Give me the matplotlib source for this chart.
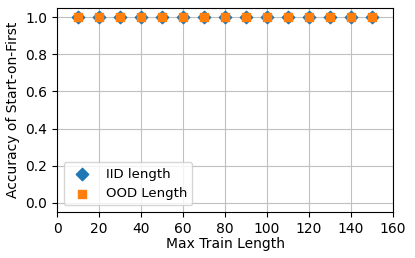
import matplotlib
matplotlib.use("Agg")
import matplotlib.pyplot as plt

train_len = [10, 20, 30, 40, 50, 60, 70, 80, 90, 100, 110, 120, 130, 140, 150]
iid_acc = [1.0] * 15
ood_acc = [1.0] * 15

plt.rcParams["font.size"] = 10

fig = plt.figure(figsize=(4.15, 2.58), dpi=100)
ax = fig.add_axes([57 / 415, 1 - 212 / 258, 336 / 415, 204 / 258])
ax.scatter(train_len, iid_acc, marker="D", s=40, color="#1f77b4", label="IID length", zorder=3)
ax.scatter(train_len, ood_acc, marker="s", s=40, color="#ff7f0e", label="OOD Length", zorder=3)
ax.set_xlim(0, 160)
ax.set_ylim(-0.05, 1.05)
ax.set_xticks(range(0, 161, 20))
ax.set_yticks([0.0, 0.2, 0.4, 0.6, 0.8, 1.0])
ax.set_xlabel("Max Train Length", labelpad=1)
ax.set_ylabel("Accuracy of Start-on-First")
ax.grid(True, color="#c0c0c0", linewidth=0.8)
ax.set_axisbelow(True)
ax.legend(loc="lower left", fontsize=9.5)
fig.savefig("out.png", dpi=100)
